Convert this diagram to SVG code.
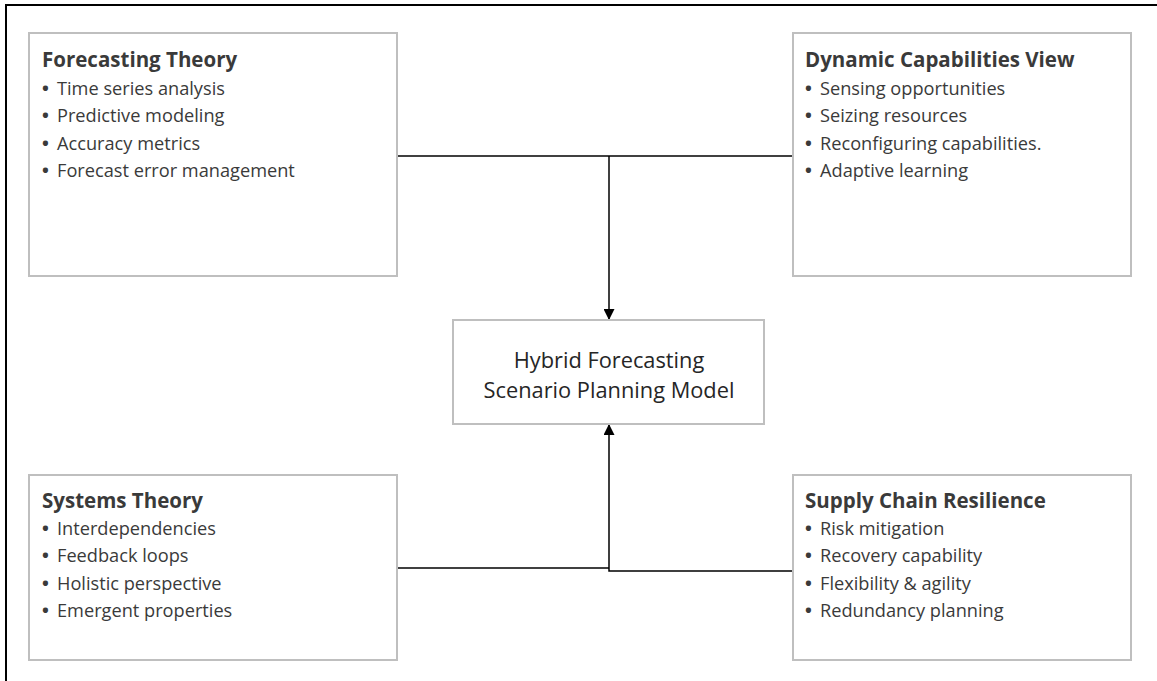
<svg xmlns="http://www.w3.org/2000/svg" width="1157" height="681" viewBox="0 0 1157 681">
  <style>
    .box { fill: #ffffff; stroke: #bfbfbf; stroke-width: 2; }
    .title { font-family: "Open Sans", "Noto Sans", sans-serif; font-weight: bold; font-size: 20.5px; fill: #3a3a3a; }
    .item { font-family: "Open Sans", "Noto Sans", sans-serif; font-size: 18.2px; fill: #3a3a3a; }
    .dot { font-weight: bold; }
    .center { font-family: "Open Sans", "Noto Sans", sans-serif; font-size: 21.8px; fill: #262626; text-anchor: middle; }
    .link { fill: none; stroke: #000000; stroke-width: 1.5; }
  </style>
  <defs>
    <marker id="arrow" viewBox="0 0 10 10" refX="10" refY="5" markerWidth="11" markerHeight="11" markerUnits="userSpaceOnUse" orient="auto">
      <path d="M0,0 L10,5 L0,10 Z" fill="#000000"/>
    </marker>
  </defs>

  <rect width="1157" height="681" fill="#ffffff"/>
  <!-- outer frame -->
  <rect x="6" y="5" width="1160" height="690" fill="none" stroke="#000000" stroke-width="2"/>

  <g id="connectors">
    <path class="link" d="M397,156 H793"/>
    <path class="link" d="M609,156 V320" marker-end="url(#arrow)"/>
    <path class="link" d="M397,568 H609"/>
    <path class="link" d="M793,571 H609 V424" marker-end="url(#arrow)"/>
  </g>

  <g id="forecasting-theory">
    <rect class="box" x="29" y="33" width="368" height="243"/>
    <text class="title" x="42" y="67">Forecasting Theory</text>
    <text class="item" x="42" y="95"><tspan class="dot">•</tspan> <tspan x="57">Time series analysis</tspan></text>
    <text class="item" x="42" y="122"><tspan class="dot">•</tspan> <tspan x="57">Predictive modeling</tspan></text>
    <text class="item" x="42" y="150"><tspan class="dot">•</tspan> <tspan x="57">Accuracy metrics</tspan></text>
    <text class="item" x="42" y="177"><tspan class="dot">•</tspan> <tspan x="57">Forecast error management</tspan></text>
  </g>

  <g id="dynamic-capabilities">
    <rect class="box" x="793" y="33" width="338" height="243"/>
    <text class="title" x="805" y="67">Dynamic Capabilities View</text>
    <text class="item" x="805" y="95"><tspan class="dot">•</tspan> <tspan x="820">Sensing opportunities</tspan></text>
    <text class="item" x="805" y="122"><tspan class="dot">•</tspan> <tspan x="820">Seizing resources</tspan></text>
    <text class="item" x="805" y="150"><tspan class="dot">•</tspan> <tspan x="820">Reconfiguring capabilities.</tspan></text>
    <text class="item" x="805" y="177"><tspan class="dot">•</tspan> <tspan x="820">Adaptive learning</tspan></text>
  </g>

  <g id="hybrid-model">
    <rect class="box" x="453" y="320" width="311" height="104" stroke="#a6a6a6"/>
    <text class="center" x="609" y="368">Hybrid Forecasting</text>
    <text class="center" x="609" y="398">Scenario Planning Model</text>
  </g>

  <g id="systems-theory">
    <rect class="box" x="29" y="475" width="368" height="185"/>
    <text class="title" x="42" y="508">Systems Theory</text>
    <text class="item" x="42" y="535"><tspan class="dot">•</tspan> <tspan x="57">Interdependencies</tspan></text>
    <text class="item" x="42" y="562"><tspan class="dot">•</tspan> <tspan x="57">Feedback loops</tspan></text>
    <text class="item" x="42" y="590"><tspan class="dot">•</tspan> <tspan x="57">Holistic perspective</tspan></text>
    <text class="item" x="42" y="617"><tspan class="dot">•</tspan> <tspan x="57">Emergent properties</tspan></text>
  </g>

  <g id="supply-chain-resilience">
    <rect class="box" x="793" y="475" width="338" height="185"/>
    <text class="title" x="805" y="508">Supply Chain Resilience</text>
    <text class="item" x="805" y="535"><tspan class="dot">•</tspan> <tspan x="820">Risk mitigation</tspan></text>
    <text class="item" x="805" y="562"><tspan class="dot">•</tspan> <tspan x="820">Recovery capability</tspan></text>
    <text class="item" x="805" y="590"><tspan class="dot">•</tspan> <tspan x="820">Flexibility &amp; agility</tspan></text>
    <text class="item" x="805" y="617"><tspan class="dot">•</tspan> <tspan x="820">Redundancy planning</tspan></text>
  </g>
</svg>
